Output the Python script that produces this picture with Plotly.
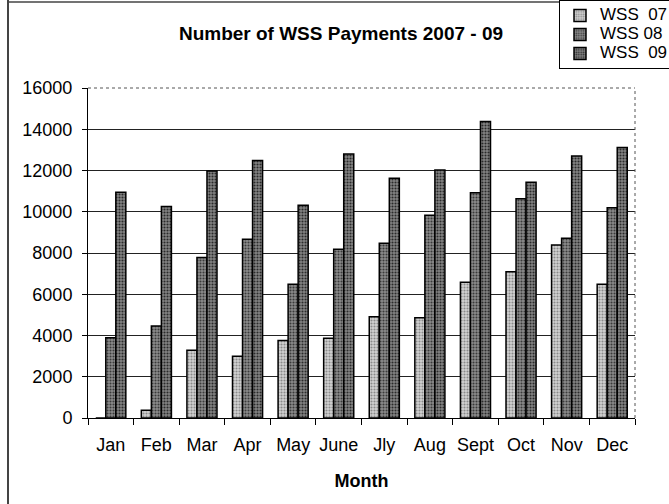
import plotly.graph_objects as go

months = ["Jan", "Feb", "Mar", "Apr", "May", "June", "Jly", "Aug", "Sept", "Oct", "Nov", "Dec"]
wss07 = [0, 380, 3290, 3000, 3760, 3870, 4910, 4860, 6580, 7090, 8390, 6480]
wss08 = [3890, 4460, 7780, 8670, 6490, 8180, 8470, 9830, 10920, 10630, 8710, 10200]
wss09 = [10950, 10260, 11980, 12480, 10320, 12800, 11620, 12020, 14370, 11430, 12700, 13110]
series_names = ["WSS  07", "WSS 08", "WSS  09"]

W, H = 669, 504
L, R, T, B = 88, 34, 88, 86
pw, ph = W - L - R, H - T - B

def px(x):
    return (x - L) / pw

def py(y):
    return (H - B - y) / ph

fig = go.Figure()
styles = [
    dict(bg="#d2d2d2", fg="#8a8a8a"),
    dict(bg="#8c8c8c", fg="#3a3a3a"),
    dict(bg="#848484", fg="#2a2a2a"),
]
for name, vals, st in zip(series_names, [wss07, wss08, wss09], styles):
    fig.add_trace(go.Bar(
        x=months, y=vals, name='<span style="font-size:17px">' + name + '</span>',
        marker=dict(
            color=st["bg"],
            line=dict(color="black", width=1.5),
            pattern=dict(shape=".", fgcolor=st["fg"], bgcolor=st["bg"], size=3, solidity=0.4, fillmode="replace"),
        ),
    ))

font = "Liberation Sans, Arial, sans-serif"
fig.update_layout(
    width=W, height=H,
    margin=dict(l=L, r=R, t=T, b=B, autoexpand=False),
    paper_bgcolor="white", plot_bgcolor="white",
    barmode="group", bargap=0.34, bargroupgap=0.0,
    font=dict(family=font, size=18, color="black"),
    title=dict(text="<b>Number of WSS Payments 2007 - 09</b>", x=px(341), xref="paper", xanchor="center",
               y=1 - 33 / H, yanchor="middle", font=dict(size=19)),
    xaxis=dict(
        tickson="boundaries", ticks="outside", ticklen=6, tickcolor="black",
        showline=True, linecolor="black", linewidth=1, tickangle=0,
        ticklabelstandoff=10,
        title=dict(text="<b>Month</b>", font=dict(size=18), standoff=20),
        tickfont=dict(size=18), automargin=False,
    ),
    yaxis=dict(
        range=[0, 16000], dtick=2000, tickformat="d",
        showgrid=True, gridcolor="#222222", gridwidth=1,
        ticks="outside", ticklen=5, tickcolor="black",
        showline=True, linecolor="black", linewidth=1,
        ticklabelstandoff=6,
        tickfont=dict(size=18), automargin=False,
        zeroline=False,
    ),
    legend=dict(
        x=px(559), y=py(0), xanchor="left", yanchor="top",
        bordercolor="black", borderwidth=1, bgcolor="white",
        font=dict(size=12), tracegroupgap=0, itemwidth=30,
    ),
    showlegend=True,
)

# plot area dotted top/right border and outer chart frame
fig.add_shape(type="line", xref="paper", yref="paper", x0=0, x1=1, y0=1, y1=1,
              line=dict(color="#555555", width=1, dash="dot"))
fig.add_shape(type="line", xref="paper", yref="paper", x0=1, x1=1, y0=0, y1=1,
              line=dict(color="#555555", width=1, dash="dot"))
fig.add_shape(type="line", xref="paper", yref="paper", x0=px(8), x1=px(8), y0=py(0), y1=py(504),
              line=dict(color="#444444", width=2))
fig.add_shape(type="line", xref="paper", yref="paper", x0=px(8), x1=px(559), y0=py(2), y1=py(2),
              line=dict(color="#444444", width=1.5))

fig.write_html("out.html", config={"displayModeBar": False},
               post_script="document.body.style.margin='0';document.body.style.overflow='hidden';")
